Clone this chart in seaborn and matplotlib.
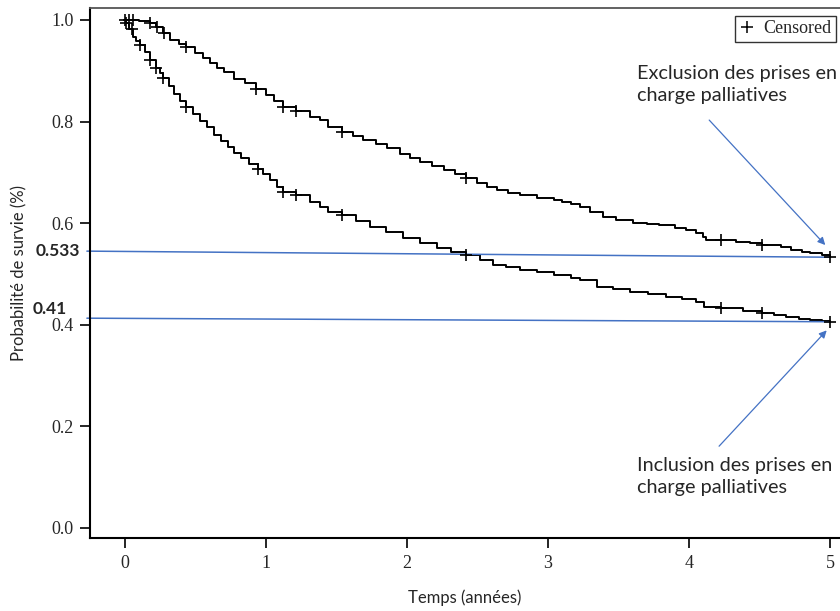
import matplotlib
matplotlib.use("Agg")
import matplotlib.pyplot as plt
import seaborn as sns
import numpy as np
import pandas as pd

# ---- data ----
excl_time = [0.00, 0.10, 0.18, 0.22, 0.27, 0.32, 0.38, 0.43, 0.50, 0.55, 0.60, 0.65,
             0.70, 0.77, 0.85, 0.93, 1.00, 1.06, 1.12, 1.21, 1.31, 1.38, 1.44, 1.54,
             1.62, 1.69, 1.78, 1.86, 1.95, 2.02, 2.09, 2.18, 2.26, 2.34, 2.42, 2.50,
             2.57, 2.64, 2.72, 2.80, 2.92, 3.04, 3.10, 3.16, 3.23, 3.30, 3.39, 3.48,
             3.60, 3.70, 3.79, 3.90, 3.98, 4.05, 4.10, 4.12, 4.23, 4.33, 4.43, 4.52,
             4.65, 4.72, 4.80, 4.86, 4.94, 5.00]
excl_surv = [1.000, 0.998, 0.995, 0.987, 0.975, 0.960, 0.952, 0.947, 0.935, 0.925,
             0.915, 0.906, 0.897, 0.884, 0.875, 0.864, 0.852, 0.840, 0.829, 0.821,
             0.810, 0.803, 0.790, 0.780, 0.772, 0.764, 0.756, 0.748, 0.736, 0.728,
             0.721, 0.712, 0.704, 0.696, 0.689, 0.680, 0.671, 0.665, 0.660, 0.655,
             0.650, 0.646, 0.642, 0.638, 0.632, 0.623, 0.613, 0.607, 0.600, 0.598,
             0.596, 0.591, 0.587, 0.580, 0.573, 0.567, 0.566, 0.563, 0.561, 0.557,
             0.554, 0.547, 0.544, 0.542, 0.538, 0.533]
excl_censor = [0.00, 0.03, 0.06, 0.18, 0.23, 0.28, 0.43, 0.93, 1.12, 1.21, 1.54, 2.42,
               4.23, 4.52, 5.00]

incl_time = [0.00, 0.01, 0.03, 0.06, 0.08, 0.11, 0.14, 0.18, 0.22, 0.25, 0.27, 0.31,
             0.35, 0.39, 0.43, 0.48, 0.53, 0.58, 0.63, 0.68, 0.73, 0.77, 0.82, 0.88,
             0.94, 0.98, 1.03, 1.08, 1.12, 1.21, 1.31, 1.38, 1.44, 1.54, 1.64, 1.74,
             1.85, 1.97, 2.09, 2.21, 2.31, 2.42, 2.52, 2.61, 2.70, 2.80, 2.92, 3.04,
             3.16, 3.23, 3.35, 3.46, 3.58, 3.71, 3.84, 3.95, 4.05, 4.11, 4.23, 4.38,
             4.52, 4.60, 4.69, 4.78, 4.86, 4.94, 5.00]
incl_surv = [1.000, 0.994, 0.982, 0.967, 0.959, 0.951, 0.937, 0.921, 0.905, 0.895,
             0.886, 0.870, 0.855, 0.841, 0.829, 0.815, 0.802, 0.790, 0.774, 0.762,
             0.750, 0.738, 0.728, 0.717, 0.707, 0.696, 0.685, 0.672, 0.662, 0.655,
             0.642, 0.632, 0.623, 0.616, 0.604, 0.593, 0.582, 0.571, 0.561, 0.551,
             0.544, 0.537, 0.527, 0.518, 0.513, 0.508, 0.503, 0.498, 0.492, 0.488,
             0.475, 0.470, 0.465, 0.460, 0.455, 0.450, 0.445, 0.435, 0.433, 0.428,
             0.424, 0.420, 0.416, 0.412, 0.409, 0.407, 0.405]
incl_censor = [0.01, 0.05, 0.11, 0.18, 0.22, 0.27, 0.43, 0.94, 1.12, 1.21, 1.54, 2.42,
               4.23, 4.52, 5.00]

x_ticks = [0, 1, 2, 3, 4, 5]
y_ticks = [0.0, 0.2, 0.4, 0.6, 0.8, 1.0]
ref_values = [0.533, 0.41]
ref_labels = ["0.533", "0.41"]
annot_texts = ["Exclusion des prises en\ncharge palliatives",
               "Inclusion des prises en\ncharge palliatives"]

BLUE = "#4472C4"
SERIF = "Liberation Serif"
SANS = "Lato"

sns.set_theme(style="ticks")
plt.rcParams["font.family"] = [SANS, "DejaVu Sans"]

fig = plt.figure(figsize=(8.4, 6.11), dpi=100)
ax = fig.add_axes([90 / 840, 1 - 538 / 611, 750 / 840, 530 / 611])


def step_lookup(times, surv, t):
    times = np.asarray(times)
    idx = np.searchsorted(times, np.asarray(t) + 1e-9, side="right") - 1
    return np.asarray(surv)[idx]


for times, surv, cens in [(excl_time, excl_surv, excl_censor),
                          (incl_time, incl_surv, incl_censor)]:
    df = pd.DataFrame({"t": times, "s": surv})
    sns.lineplot(data=df, x="t", y="s", drawstyle="steps-post", color="black",
                 lw=1.4, ax=ax, estimator=None, sort=False)
    cdf = pd.DataFrame({"t": cens, "s": step_lookup(times, surv, cens)})
    sns.scatterplot(data=cdf, x="t", y="s", marker="+", color="black", s=75,
                    linewidth=1.2, ax=ax, zorder=4)

# reference lines (hand-drawn in the original, slightly tilted)
ax.plot([-0.27, 5.0], [0.545, ref_values[0]], color=BLUE, lw=1.1, clip_on=False, zorder=2)
ax.plot([-0.27, 5.0], [0.413, 0.406], color=BLUE, lw=1.1, clip_on=False, zorder=2)

ax.text(-0.32, 0.545, ref_labels[0], ha="right", va="center", fontsize=12.5,
        fontweight="bold", family=SANS, clip_on=False)
ax.text(-0.41, 0.432, ref_labels[1], ha="right", va="center", fontsize=12.5,
        fontweight="bold", family=SANS, clip_on=False)

# annotations with arrows
ax.annotate("", xy=(4.98, 0.553), xytext=(4.13, 0.807),
            arrowprops=dict(arrowstyle="-|>", color=BLUE, lw=0.9, mutation_scale=11))
ax.annotate("", xy=(4.99, 0.393), xytext=(4.2, 0.157),
            arrowprops=dict(arrowstyle="-|>", color=BLUE, lw=0.9, mutation_scale=11))
ax.text(3.63, 0.912, annot_texts[0], ha="left", va="top", fontsize=14.3,
        family=SANS, linespacing=1.35)
ax.text(3.63, 0.139, annot_texts[1], ha="left", va="top", fontsize=14.3,
        family=SANS, linespacing=1.35)

# legend
handle = plt.Line2D([], [], marker="+", color="black", linestyle="none",
                    markersize=9, markeredgewidth=1.1)
leg = ax.legend([handle], ["Censored"], loc="upper right", bbox_to_anchor=(0.999, 0.992),
                frameon=True, fancybox=False, handlelength=0.8, handletextpad=0.5,
                borderpad=0.25, borderaxespad=0.2, prop={"family": SERIF, "size": 13})
leg.get_frame().set_edgecolor("black")
leg.get_frame().set_linewidth(1.0)

ax.set_xlim(-0.248, 5.071)
ax.set_ylim(-0.0197, 1.0236)
ax.set_xticks(x_ticks)
ax.set_yticks(y_ticks)
ax.set_xticklabels([str(v) for v in x_ticks], family=SERIF, fontsize=13)
ax.set_yticklabels([f"{v:.1f}" for v in y_ticks], family=SERIF, fontsize=13)
ax.tick_params(axis="both", direction="out", length=7, width=1.2, color="black", pad=5)

ax.set_xlabel("Temps (années)", fontsize=12, family=SANS, labelpad=13)
ax.set_ylabel("Probabilité de survie (%)", fontsize=12, family=SANS)
ax.yaxis.set_label_coords(-0.083, 0.50)

for side in ["left", "bottom"]:
    ax.spines[side].set_color("black")
    ax.spines[side].set_linewidth(1.5)
ax.spines["top"].set_color("#555555")
ax.spines["top"].set_linewidth(1.3)
ax.spines["right"].set_visible(False)

fig.savefig("out.png", dpi=100)
